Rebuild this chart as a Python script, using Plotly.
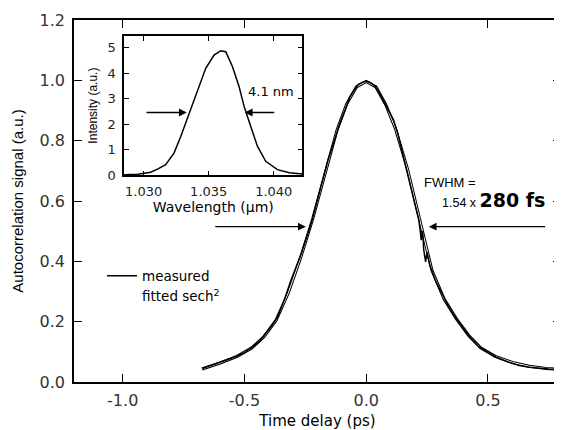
import plotly.graph_objects as go

# Autocorrelation trace (time delay in ps, signal in a.u.)
delay_meas = [-0.674, -0.62, -0.556, -0.50, -0.474, -0.44, -0.419, -0.39, -0.364, -0.335,
              -0.309, -0.267, -0.226, -0.19, -0.157, -0.13, -0.109, -0.085, -0.067, -0.045,
              -0.033, -0.015, 0.0, 0.018, 0.036, 0.055, 0.077, 0.095, 0.112, 0.13,
              0.146, 0.163, 0.18, 0.195, 0.208, 0.216, 0.222, 0.226, 0.232, 0.236,
              0.244, 0.25, 0.262, 0.284, 0.31, 0.339, 0.365, 0.394, 0.43, 0.463,
              0.50, 0.532, 0.58, 0.628, 0.67, 0.711, 0.75, 0.80]
signal_meas = [0.045, 0.060, 0.078, 0.097, 0.112, 0.133, 0.155, 0.185, 0.216, 0.275,
               0.337, 0.425, 0.525, 0.632, 0.735, 0.802, 0.857, 0.906, 0.945, 0.973,
               0.986, 0.994, 0.997, 0.992, 0.980, 0.957, 0.924, 0.897, 0.869, 0.822,
               0.770, 0.713, 0.660, 0.605, 0.560, 0.537, 0.500, 0.470, 0.500, 0.440,
               0.398, 0.430, 0.385, 0.337, 0.295, 0.249, 0.215, 0.183, 0.145, 0.116,
               0.097, 0.083, 0.067, 0.055, 0.049, 0.045, 0.043, 0.042]

delay_fit = [-0.674, -0.60, -0.53, -0.47, -0.42, -0.37, -0.32, -0.27, -0.22, -0.17,
             -0.12, -0.08, -0.04, 0.0, 0.04, 0.08, 0.12, 0.17, 0.22, 0.27,
             0.32, 0.37, 0.42, 0.47, 0.53, 0.60, 0.67, 0.74, 0.80]
signal_fit = [0.043, 0.063, 0.085, 0.113, 0.150, 0.205, 0.295, 0.410, 0.540, 0.685,
              0.835, 0.922, 0.978, 0.996, 0.978, 0.920, 0.840, 0.705, 0.535, 0.370,
              0.275, 0.210, 0.155, 0.113, 0.085, 0.065, 0.052, 0.045, 0.042]

# Inset spectrum (wavelength in um, intensity in a.u.)
wavelength = [1.0285, 1.02955, 1.03054, 1.0311, 1.03169, 1.03233, 1.03285, 1.03341, 1.03413, 1.03477,
              1.03541, 1.03592, 1.03631, 1.03682, 1.03733, 1.03772, 1.03823, 1.03875, 1.03938,
              1.04028, 1.0412, 1.0422]
intensity = [0.02, 0.04, 0.12, 0.25, 0.42, 0.87, 1.52, 2.30, 3.28, 4.19,
             4.71, 4.88, 4.84, 4.26, 3.48, 2.70, 1.91, 1.13, 0.55,
             0.22, 0.10, 0.05]

WIDE = "DejaVu Sans"
NARROW = "Liberation Sans"

fig = go.Figure()

# fitted sech^2 drawn as a hollow line, measured trace on top
fig.add_trace(go.Scatter(x=delay_fit, y=signal_fit, mode="lines", line=dict(color="black", width=3),
                         showlegend=False, hoverinfo="skip"))
fig.add_trace(go.Scatter(x=delay_fit, y=signal_fit, mode="lines", line=dict(color="white", width=1),
                         showlegend=False, hoverinfo="skip"))
fig.add_trace(go.Scatter(x=delay_meas, y=signal_meas, mode="lines", name="measured",
                         line=dict(color="black", width=1.5)))
fig.add_trace(go.Scatter(x=[None], y=[None], mode="lines", name="fitted sech<sup>2</sup>",
                         line=dict(color="white", width=1)))

fig.add_trace(go.Scatter(x=wavelength, y=intensity, mode="lines", xaxis="x2", yaxis="y2",
                         line=dict(color="black", width=1.5), showlegend=False))

frame = dict(showline=True, linecolor="black", linewidth=1.5, mirror="ticks", ticks="inside",
             tickcolor="black", showgrid=False, zeroline=False, automargin=False)

# the page body adds an 8px offset, so the figure is sized and padded to land on the window
fig.update_layout(
    width=554, height=422,
    margin=dict(l=66, r=1, t=12, b=48),
    plot_bgcolor="white", paper_bgcolor="white",
    font=dict(family=WIDE, color="black"),
    xaxis=dict(range=[-1.2, 0.8], tickvals=[-1.0, -0.5, 0.0, 0.5], ticktext=["-1.0", "-0.5", "0.0", "0.5"],
               ticklen=8, ticklabelstandoff=3, tickfont=dict(family=WIDE, size=16, color="#333"),
               title=dict(text="Time delay (ps)", font=dict(family=WIDE, size=15), standoff=8), **frame),
    yaxis=dict(range=[0, 1.2], tickvals=[0, 0.2, 0.4, 0.6, 0.8, 1.0, 1.2],
               ticktext=["0.0", "0.2", "0.4", "0.6", "0.8", "1.0", "1.2"],
               ticklen=8, ticklabelstandoff=4, tickfont=dict(family=WIDE, size=16, color="#333"),
               title=dict(text="Autocorrelation signal (a.u.)", font=dict(family=NARROW, size=15), standoff=12),
               **frame),
    xaxis2=dict(domain=[0.103, 0.469], anchor="y2", range=[1.0285, 1.0422],
                tickvals=[1.030, 1.035, 1.040], ticktext=["1.030", "1.035", "1.040"],
                ticklen=5, ticklabelstandoff=3, tickfont=dict(family=WIDE, size=13, color="#222"),
                title=dict(text="Wavelength (µm)", font=dict(family=WIDE, size=14), standoff=4), **frame),
    yaxis2=dict(domain=[0.571, 0.956], anchor="x2", range=[0, 5.46], tickvals=[0, 1, 2, 3, 4, 5],
                ticklen=5, ticklabelstandoff=4, tickfont=dict(family=WIDE, size=13, color="#222"),
                title=dict(text="Intensity (a.u.)", font=dict(family=NARROW, size=12), standoff=7),
                **frame),
    legend=dict(x=0.0575, y=0.336, xanchor="left", yanchor="top", bgcolor="rgba(0,0,0,0)",
                font=dict(family=WIDE, size=13.5), itemwidth=30, tracegroupgap=0),
    showlegend=True,
)

arrow = dict(showarrow=True, arrowhead=2, arrowsize=1.2, arrowwidth=1.3, arrowcolor="black", text="")
fig.add_annotation(x=-0.248, y=0.515, ax=-0.626, ay=0.515, xref="x", yref="y", axref="x", ayref="y", **arrow)
fig.add_annotation(x=0.257, y=0.515, ax=0.741, ay=0.515, xref="x", yref="y", axref="x", ayref="y", **arrow)
fig.add_annotation(x=1.03331, y=2.46, ax=1.0301, ay=2.46, xref="x2", yref="y2", axref="x2", ayref="y2", **arrow)
fig.add_annotation(x=1.03777, y=2.46, ax=1.04015, ay=2.46, xref="x2", yref="y2", axref="x2", ayref="y2", **arrow)

fig.add_annotation(x=0.228, y=0.66, xref="x", yref="y", text="FWHM =", showarrow=False,
                   xanchor="left", font=dict(family=NARROW, size=13))
fig.add_annotation(x=0.741, y=0.604, xref="x", yref="y", showarrow=False, xanchor="right",
                   text="1.54 x <span style='font-family:DejaVu Sans;font-size:19px'><b>280 fs</b></span>",
                   font=dict(family=NARROW, size=12.5))
fig.add_annotation(x=1.0379, y=3.27, xref="x2", yref="y2", text="4.1 nm", showarrow=False,
                   xanchor="left", font=dict(family=WIDE, size=13))

fig.write_html("out.html")
